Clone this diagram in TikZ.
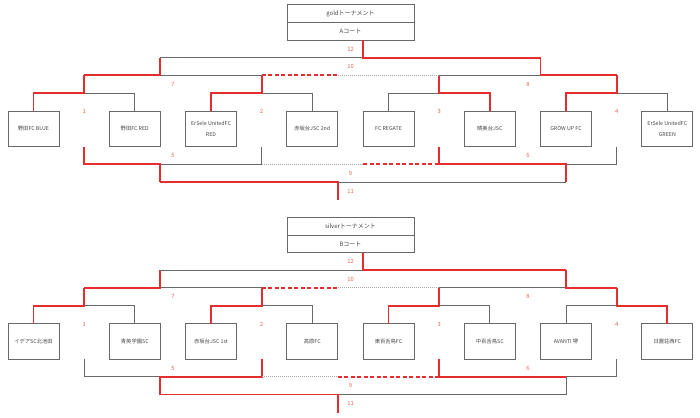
\documentclass[tikz,border=0pt]{standalone}
\usepackage{fontspec}
\setmainfont{Noto Sans CJK JP}
\usetikzlibrary{positioning,calc}
\definecolor{winred}{RGB}{230,45,45}
\definecolor{losegrey}{RGB}{105,105,105}
\definecolor{numred}{RGB}{232,96,86}
\definecolor{textgrey}{RGB}{70,70,70}
\tikzset{
    win/.style     = {draw=winred, line width=1.7pt},
    lose/.style    = {draw=losegrey, line width=1pt},
    windash/.style = {win, dash pattern=on 4pt off 2.5pt},
    losedot/.style = {draw=losegrey!55, line width=1pt, dash pattern=on 1pt off 1pt},
    team/.style    = {draw=losegrey, line width=0.9pt, minimum width=51pt,
            minimum height=35.7pt, inner sep=1pt, outer sep=0pt, align=center,
            text=textgrey, font=\fontsize{5.3}{11}\selectfont},
    headbox/.style = {team, minimum width=127pt, minimum height=17.8pt,
            font=\fontsize{6}{7}\selectfont},
    num/.style     = {text=numred, inner sep=0pt, font=\fontsize{5.8}{6}\selectfont},
}
\begin{document}
\begin{tikzpicture}[x=1pt, y=-1pt, node distance=50.3pt]
    \useasboundingbox (0,0) rectangle (700,417);
    % gold tournament
    \begin{scope}
        % Nodes
        \node[headbox] (gh1) at (350.5,13.6) {goldトーナメント};
        \node[headbox, below=0pt of gh1] (gh2) {Aコート};
        \node[team] (g1) at (33.5,128.85) {野田FC BLUE};
        \node[team, right=of g1] (g2) {野田FC RED};
        \node[team, right=25.2pt of g2] (g3) {ErSele UnitedFC\\RED};
        \node[team, right=of g3] (g4) {赤坂台JSC 2nd};
        \node[team, right=25.2pt of g4] (g5) {FC REGATE};
        \node[team, right=of g5] (g6) {晴美台JSC};
        \node[team, right=25.2pt of g6] (g7) {GROW UP FC};
        \node[team, right=of g7] (g8) {ErSele UnitedFC\\GREEN};
        % levels and match points
        \coordinate (gA) at (0,57.7);
        \coordinate (gB) at (0,75.3);
        \coordinate (gC) at (0,93.3);
        \coordinate (gD) at (0,164.3);
        \coordinate (gE) at (0,182);
        \coordinate (gF) at (0,200);
        \coordinate (gm1) at ($(g1)!.5!(g2)$);
        \coordinate (gm3) at ($(g3)!.5!(g4)$);
        \coordinate (gm5) at ($(g5)!.5!(g6)$);
        \coordinate (gm7) at ($(g7)!.5!(g8)$);

        % Lines
        \draw[lose] (g2.north) |- (gm1 |- gC);
        \draw[win] (g1.north) |- (gm1 |- gC) -- (gm1 |- gB);
        \draw[lose] (g4.north) |- (gm3 |- gC);
        \draw[win] (g3.north) |- (gm3 |- gC) -- (gm3 |- gB);
        \draw[lose] (g5.north) |- (gm5 |- gC);
        \draw[win] (g6.north) |- (gm5 |- gC) -- (gm5 |- gB);
        \draw[lose] (g8.north) |- (gm7 |- gC);
        \draw[win] (g7.north) |- (gm7 |- gC) -- (gm7 |- gB);

        \draw[lose] (g2.east |- gB) -- (gm3 |- gB);
        \draw[win] (gm1 |- gB) -- (g2.east |- gB) -- (g2.east |- gA);
        \draw[lose] (gm5 |- gB) -- (g7.west |- gB);
        \draw[win] (gm7 |- gB) -- (g7.west |- gB) -- (g7.west |- gA);
        \draw[windash] (gm3 |- gB) -- (g4.east |- gB);
        \draw[losedot] (g4.east |- gB) -- (gm5 |- gB);
        \draw[lose] (g2.east |- gA) -- (g5.west |- gA);
        \draw[win] (gh2.south -| g5.west) |- (g7.west |- gA);

        \draw[lose] (g2.east |- gD) -- (gm3 |- gD) -- (gm3 |- g3.south);
        \draw[win] (gm1 |- g1.south) |- (g2.east |- gD) -- (g2.east |- gE);
        \draw[lose] (g7 |- gD) -- (gm7 |- gD) -- (gm7 |- g7.south);
        \draw[win] (gm5 |- g5.south) |- (g7 |- gD) -- (g7 |- gE);
        \draw[losedot] (gm3 |- gD) -- (g5.west |- gD);
        \draw[windash] (g5.west |- gD) -- (gm5 |- gD);
        \draw[lose] (g4.east |- gE) -- (g7 |- gE);
        \draw[win] (g2.east |- gE) -- (g4.east |- gE) -- (g4.east |- gF);

        % match numbers
        \node[num] (gn1) at ($(gm1)+(0,-17)$) {1};
        \node[num] (gn2) at ($(gm3)+(0,-17)$) {2};
        \node[num] (gn3) at ($(gm5)+(0,-17)$) {3};
        \node[num] (gn4) at ($(gm7)+(0,-17)$) {4};
        \node[num] (gn5) at ($(gm1 |- g1.south)!.5!(gm3 |- gD)$) {5};
        \node[num] (gn6) at ($(gm5 |- g5.south)!.5!(gm7 |- gD)$) {6};
        \node[num] (gn7) at ($(gm1 |- gB)!.5!(gm3 |- gC)$) {7};
        \node[num] (gn8) at ($(gm5 |- gB)!.5!(gm7 |- gC)$) {8};
        \node[num] (gn9) at ($(gh2 |- gD)!.5!(gh2 |- gE)$) {9};
        \node[num] (gn10) at ($(gh2 |- gA)!.5!(gh2 |- gB)$) {10};
        \node[num] (gn11) at ($(gh2 |- gE)!.5!(gh2 |- gF)$) {11};
        \node[num] (gn12) at ($(gh2.south)!.5!(gh2.south |- gA)$) {12};
    \end{scope}

    % silver tournament
    \begin{scope}[shift={(0,212.6)}]
        % Nodes
        \node[headbox] (sh1) at (350.5,13.6) {silverトーナメント};
        \node[headbox, below=0pt of sh1] (sh2) {Bコート};
        \node[team] (s1) at (33.5,128.85) {イデアSC北池田};
        \node[team, right=of s1] (s2) {青英学園SC};
        \node[team, right=25.2pt of s2] (s3) {赤坂台JSC 1st};
        \node[team, right=of s3] (s4) {高原FC};
        \node[team, right=25.2pt of s4] (s5) {東百舌鳥FC};
        \node[team, right=of s5] (s6) {中百舌鳥SC};
        \node[team, right=25.2pt of s6] (s7) {AVANTI 堺};
        \node[team, right=of s7] (s8) {日置荘西FC};
        % levels and match points
        \coordinate (sA) at (0,57.7);
        \coordinate (sB) at (0,75.3);
        \coordinate (sC) at (0,93.3);
        \coordinate (sD) at (0,164.3);
        \coordinate (sE) at (0,182);
        \coordinate (sF) at (0,200);
        \coordinate (sm1) at ($(s1)!.5!(s2)$);
        \coordinate (sm3) at ($(s3)!.5!(s4)$);
        \coordinate (sm5) at ($(s5)!.5!(s6)$);
        \coordinate (sm7) at ($(s7)!.5!(s8)$);

        % Lines
        \draw[lose] (s2.north) |- (sm1 |- sC);
        \draw[win] (s1.north) |- (sm1 |- sC) -- (sm1 |- sB);
        \draw[lose] (s4.north) |- (sm3 |- sC);
        \draw[win] (s3.north) |- (sm3 |- sC) -- (sm3 |- sB);
        \draw[lose] (s6.north) |- (sm5 |- sC);
        \draw[win] (s5.north) |- (sm5 |- sC) -- (sm5 |- sB);
        \draw[lose] (s7.north) |- (sm7 |- sC);
        \draw[win] (s8.north) |- (sm7 |- sC) -- (sm7 |- sB);

        \draw[lose] (s2.east |- sB) -- (sm3 |- sB);
        \draw[win] (sm1 |- sB) -- (s2.east |- sB) -- (s2.east |- sA);
        \draw[lose] (sm5 |- sB) -- (s7 |- sB);
        \draw[win] (sm7 |- sB) -- (s7 |- sB) -- (s7 |- sA);
        \draw[windash] (sm3 |- sB) -- (s4.east |- sB);
        \draw[losedot] (s4.east |- sB) -- (sm5 |- sB);
        \draw[lose] (s2.east |- sA) -- (s5.west |- sA);
        \draw[win] (sh2.south -| s5.west) |- (s7 |- sA);

        \draw[lose] (sm1 |- s1.south) |- (s2.east |- sD);
        \draw[win] (sm3 |- s3.south) |- (s2.east |- sD) -- (s2.east |- sE);
        \draw[lose] (sm7 |- s7.south) |- (s7 |- sD) -- (s7 |- sE);
        \draw[win] (sm5 |- s5.south) |- (s7 |- sD);
        \draw[losedot] (sm3 |- sD) -- (s4.east |- sD);
        \draw[windash] (s4.east |- sD) -- (sm5 |- sD);
        \draw[lose] (s4.east |- sE) -- (s7 |- sE);
        \draw[win] (s2.east |- sE) -- (s4.east |- sE) -- (s4.east |- sF);

        % match numbers
        \node[num] (sn1) at ($(sm1)+(0,-17)$) {1};
        \node[num] (sn2) at ($(sm3)+(0,-17)$) {2};
        \node[num] (sn3) at ($(sm5)+(0,-17)$) {3};
        \node[num] (sn4) at ($(sm7)+(0,-17)$) {4};
        \node[num] (sn5) at ($(sm1 |- s1.south)!.5!(sm3 |- sD)$) {5};
        \node[num] (sn6) at ($(sm5 |- s5.south)!.5!(sm7 |- sD)$) {6};
        \node[num] (sn7) at ($(sm1 |- sB)!.5!(sm3 |- sC)$) {7};
        \node[num] (sn8) at ($(sm5 |- sB)!.5!(sm7 |- sC)$) {8};
        \node[num] (sn9) at ($(sh2 |- sD)!.5!(sh2 |- sE)$) {9};
        \node[num] (sn10) at ($(sh2 |- sA)!.5!(sh2 |- sB)$) {10};
        \node[num] (sn11) at ($(sh2 |- sE)!.5!(sh2 |- sF)$) {11};
        \node[num] (sn12) at ($(sh2.south)!.5!(sh2.south |- sA)$) {12};
    \end{scope}
\end{tikzpicture}
\end{document}
